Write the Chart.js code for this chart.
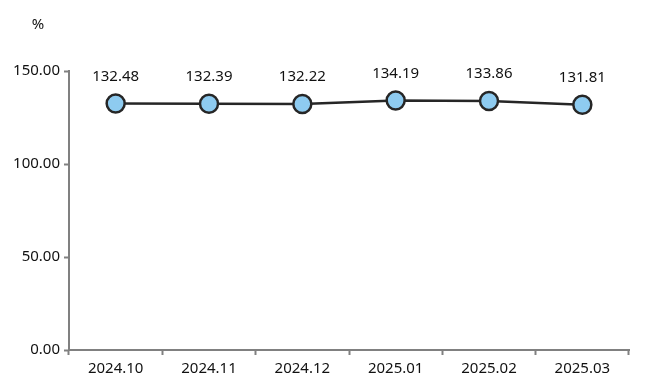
<!DOCTYPE html>
<html>
<head>
<meta charset="utf-8">
<script src="https://cdn.jsdelivr.net/npm/chart.js@4/dist/chart.umd.min.js"></script>
<style>
  html, body { margin: 0; padding: 0; background: #fff; }
  #wrap { width: 649px; height: 391px; position: relative; }
</style>
</head>
<body>
<div id="wrap"><canvas id="myChart"></canvas></div>
<script>
const labels = ['2024.10', '2024.11', '2024.12', '2025.01', '2025.02', '2025.03'];
const values = [132.48, 132.39, 132.22, 134.19, 133.86, 131.81];
const yTicks = [0, 50, 100, 150];
const unitLabel = '%';

const fontFamily = '"Noto Sans", "DejaVu Sans", sans-serif';
const axisColor = '#808080';

// draws the value above each point and the unit at the top left
const valueLabels = {
    id: 'valueLabels',
    afterDatasetsDraw(chart) {
        const ctx = chart.ctx;
        const meta = chart.getDatasetMeta(0);
        ctx.save();
        ctx.font = '15px ' + fontFamily;
        ctx.fillStyle = '#111';
        ctx.textAlign = 'center';
        ctx.textBaseline = 'middle';
        meta.data.forEach((pt, i) => {
            ctx.fillText(values[i].toFixed(2), pt.x, pt.y - 27);
        });
        ctx.fillText(unitLabel, 38, 25);
        ctx.restore();
    }
};

const ctx = document.getElementById('myChart').getContext('2d');

new Chart(ctx, {
    type: 'line',
    data: {
        labels: labels,
        datasets: [{
            label: '%',
            data: values,
            borderColor: '#262626',
            borderWidth: 2.5,
            pointRadius: 9,
            pointHoverRadius: 9,
            pointBackgroundColor: '#8ecbf0',
            pointBorderColor: '#262626',
            pointBorderWidth: 2.5,
            tension: 0,
            fill: false
        }]
    },
    options: {
        responsive: true,
        maintainAspectRatio: false,
        animation: false,
        layout: {
            padding: { top: 71, right: 20, left: 0, bottom: 0 }
        },
        scales: {
            x: {
                offset: true,
                grid: {
                    display: true,
                    drawOnChartArea: false,
                    drawTicks: true,
                    tickLength: 5,
                    tickWidth: 2,
                    tickColor: axisColor,
                    offset: true
                },
                border: { display: true, color: axisColor, width: 2 },
                ticks: {
                    color: '#111',
                    font: { size: 15, family: fontFamily },
                    padding: 5,
                    maxRotation: 0
                },
                afterFit(scale) { scale.height = 41; }
            },
            y: {
                min: 0,
                max: 150,
                afterBuildTicks(scale) {
                    scale.ticks = yTicks.map(v => ({ value: v }));
                },
                grid: {
                    display: true,
                    drawOnChartArea: false,
                    drawTicks: true,
                    tickLength: 5,
                    tickWidth: 2,
                    tickColor: axisColor
                },
                border: { display: true, color: axisColor, width: 2 },
                ticks: {
                    color: '#111',
                    font: { size: 15, family: fontFamily },
                    padding: 4,
                    callback: v => Number(v).toFixed(2)
                },
                afterFit(scale) { scale.width = 69; }
            }
        },
        plugins: {
            legend: { display: false },
            tooltip: { enabled: false }
        }
    },
    plugins: [valueLabels]
});
</script>
</body>
</html>
